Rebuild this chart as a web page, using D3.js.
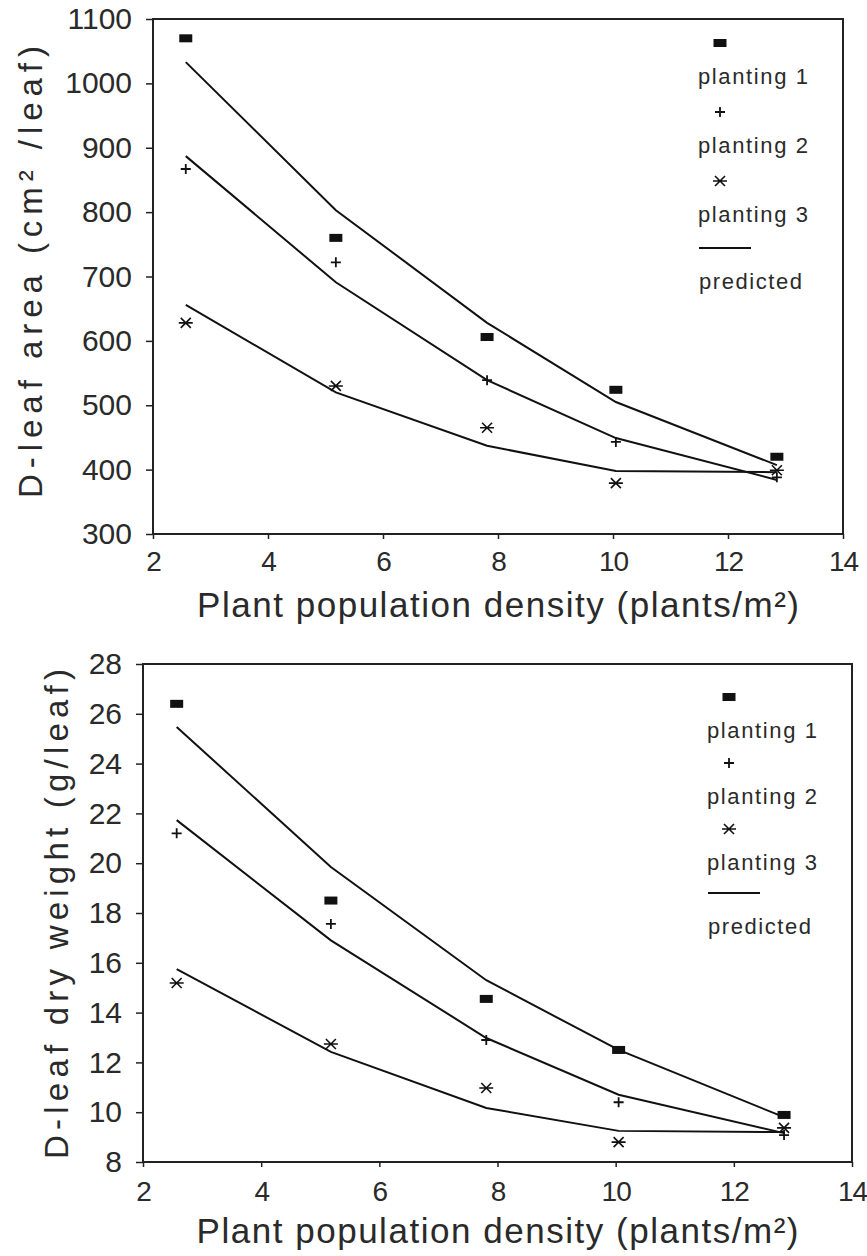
<!DOCTYPE html>
<html>
<head>
<meta charset="utf-8">
<script src="https://cdn.jsdelivr.net/npm/d3@7"></script>
<style>
  body { margin: 0; background: #fff; }
  text { font-family: "Liberation Sans", Arial, sans-serif; fill: #2a2a2a; }
</style>
</head>
<body>
<div id="leaf_chart"></div>
<script>
// plant densities (plants/m2) shared by both panels
var density = [2.57, 5.18, 7.81, 10.05, 12.85];

// D-leaf area (cm2/leaf)
var area_planting1 = [1070, 760, 606, 524, 420];
var area_planting2 = [867, 722, 539, 443, 388];
var area_planting3 = [628, 530, 465, 379, 399];
var area_pred1 = [1033, 803, 628, 505, 407];
var area_pred2 = [887, 691, 539, 449, 384];
var area_pred3 = [656, 520, 437, 398, 396];
var area_ticks = [300, 400, 500, 600, 700, 800, 900, 1000, 1100];

// D-leaf dry weight (g/leaf)
var weight_planting1 = [26.4, 18.5, 14.55, 12.5, 9.89];
var weight_planting2 = [21.2, 17.56, 12.9, 10.4, 9.08];
var weight_planting3 = [15.19, 12.74, 10.97, 8.8, 9.37];
var weight_pred1 = [25.47, 19.85, 15.3, 12.5, 9.8];
var weight_pred2 = [21.73, 16.9, 12.98, 10.7, 9.16];
var weight_pred3 = [15.75, 12.42, 10.17, 9.25, 9.2];
var weight_ticks = [8, 10, 12, 14, 16, 18, 20, 22, 24, 26, 28];

var x_ticks = [2, 4, 6, 8, 10, 12, 14];
var legend_labels = ["planting 1", "planting 2", "planting 3", "predicted"];

var svg_leaf = d3.select("#leaf_chart")
  .append("svg")
  .attr("width", 867)
  .attr("height", 1256);

function zip(xs, ys) {
  return xs.map(function (d, i) { return { x: d, y: ys[i] }; });
}

function draw_marker(g, type, cx, cy) {
  if (type === "square") {
    g.append("rect")
      .attr("x", cx - 6.5).attr("y", cy - 4)
      .attr("width", 13).attr("height", 8)
      .attr("fill", "#111");
  } else if (type === "plus") {
    g.append("path")
      .attr("d", "M" + (cx - 5) + "," + cy + "H" + (cx + 5) + "M" + cx + "," + (cy - 5) + "V" + (cy + 5))
      .attr("stroke", "#111").attr("stroke-width", 1.8).attr("fill", "none");
  } else {
    g.append("path")
      .attr("d", "M" + (cx - 7) + "," + cy + "H" + (cx + 7) +
        "M" + (cx - 5) + "," + (cy - 5) + "L" + (cx + 5) + "," + (cy + 5) +
        "M" + (cx - 5) + "," + (cy + 5) + "L" + (cx + 5) + "," + (cy - 5))
      .attr("stroke", "#111").attr("stroke-width", 1.6).attr("fill", "none");
  }
}

function draw_panel(p) {
  var g = svg_leaf.append("g");

  var x = d3.scaleLinear().domain([2, 14]).range([p.left, p.right]);
  var y = d3.scaleLinear().domain(p.ydomain).range([p.bottom, p.top]);

  // frame
  g.append("rect")
    .attr("x", p.left).attr("y", p.top)
    .attr("width", p.right - p.left).attr("height", p.bottom - p.top)
    .attr("fill", "none").attr("stroke", "#222").attr("stroke-width", 2);

  var yAxis = g.append("g")
    .attr("transform", "translate(" + p.left + ",0)")
    .call(d3.axisLeft(y).tickValues(p.yticks).tickSize(7).tickPadding(p.ypad).tickFormat(d3.format("d")));
  yAxis.select(".domain").remove();
  yAxis.selectAll("line").attr("stroke", "#222").attr("stroke-width", 1.5);
  yAxis.selectAll("text")
    .style("font-size", "30px")
    .attr("fill", "#2a2a2a");

  var xAxis = g.append("g")
    .attr("transform", "translate(0," + p.bottom + ")")
    .call(d3.axisBottom(x).tickValues(x_ticks).tickSize(5).tickPadding(p.xpad).tickFormat(d3.format("d")));
  xAxis.select(".domain").remove();
  xAxis.selectAll("line").attr("stroke", "#222").attr("stroke-width", 1.5);
  xAxis.selectAll("text")
    .style("font-size", "28px")
    .style("letter-spacing", "-1px")
    .attr("fill", "#2a2a2a");

  // axis titles
  g.append("text")
    .attr("x", (p.left + p.right) / 2 + p.xlabel_shift)
    .attr("y", p.xlabel_y)
    .attr("text-anchor", "middle")
    .attr("textLength", 602)
    .attr("lengthAdjust", "spacing")
    .style("font-size", "35px")
    .text("Plant population density (plants/m²)");

  g.append("text")
    .attr("transform", "translate(" + p.ylabel_x + "," + p.ylabel_mid + ") rotate(-90)")
    .attr("text-anchor", "middle")
    .attr("textLength", p.ylabel_len)
    .attr("lengthAdjust", "spacing")
    .style("font-size", "33px")
    .text(p.ylabel);

  // predicted lines
  var line = d3.line()
    .x(function (d) { return x(d.x); })
    .y(function (d) { return y(d.y); });

  p.preds.forEach(function (s) {
    g.append("path")
      .datum(zip(density, s))
      .attr("d", line)
      .attr("fill", "none")
      .attr("stroke", "#111")
      .attr("stroke-width", 2);
  });

  // observed points
  var types = ["square", "plus", "star"];
  p.obs.forEach(function (s, k) {
    zip(density, s).forEach(function (d) {
      draw_marker(g, types[k], x(d.x), y(d.y));
    });
  });

  // legend
  var lg = g.append("g");
  types.forEach(function (t, k) {
    draw_marker(lg, t, p.leg_x + 22, p.leg_y + k * p.leg_step);
    lg.append("text")
      .attr("x", p.leg_x)
      .attr("y", p.leg_y + k * p.leg_step + 41)
      .attr("textLength", 110)
      .attr("lengthAdjust", "spacing")
      .style("font-size", "22px")
      .text(legend_labels[k]);
  });
  lg.append("line")
    .attr("x1", p.leg_x + 1).attr("x2", p.leg_x + 53)
    .attr("y1", p.leg_y + 3 * p.leg_step - 2).attr("y2", p.leg_y + 3 * p.leg_step - 2)
    .attr("stroke", "#111").attr("stroke-width", 2);
  lg.append("text")
    .attr("x", p.leg_x + 1)
    .attr("y", p.leg_y + 3 * p.leg_step + 39)
    .attr("textLength", 103)
    .attr("lengthAdjust", "spacing")
    .style("font-size", "22px")
    .text(legend_labels[3]);
}

draw_panel({
  left: 153, right: 843, top: 19, bottom: 534,
  ydomain: [300, 1100], yticks: area_ticks, ypad: 14, xpad: 12,
  xlabel_y: 617, xlabel_shift: 0,
  ylabel: "D-leaf area (cm² /leaf)", ylabel_x: 42, ylabel_mid: 272, ylabel_len: 452,
  preds: [area_pred1, area_pred2, area_pred3],
  obs: [area_planting1, area_planting2, area_planting3],
  leg_x: 698, leg_y: 43, leg_step: 69
});

draw_panel({
  left: 143, right: 852, top: 664, bottom: 1162,
  ydomain: [8, 28], yticks: weight_ticks, ypad: 14, xpad: 14,
  xlabel_y: 1243, xlabel_shift: 0,
  ylabel: "D-leaf dry weight (g/leaf)", ylabel_x: 68, ylabel_mid: 914, ylabel_len: 490,
  preds: [weight_pred1, weight_pred2, weight_pred3],
  obs: [weight_planting1, weight_planting2, weight_planting3],
  leg_x: 707, leg_y: 697, leg_step: 66
});
</script>
</body>
</html>
